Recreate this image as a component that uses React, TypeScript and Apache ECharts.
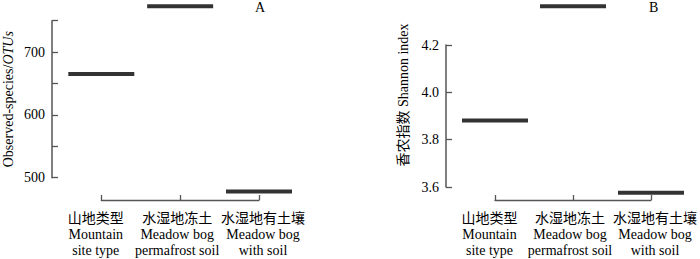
import React, { useEffect, useRef } from "react";
import * as echarts from "echarts";

const categories = [
  "山地类型\nMountain\nsite type",
  "水湿地冻土\nMeadow bog\npermafrost soil",
  "水湿地有土壤\nMeadow bog\nwith soil",
];
const otusValues = [665, 773, 478];
const shannonValues = [3.881, 4.364, 3.576];
const panelTitles = ["A", "B"];

const FONT = "Liberation Serif, Times New Roman, Noto Sans CJK SC, serif";
const LABEL_PADDING = [
  [0, 11, 0, 0],
  [0, 6, 0, 0],
  [0, 0, 0, 8],
];

export default function App() {
  const ref = useRef<HTMLDivElement>(null);
  useEffect(() => {
    const chart = echarts.init(ref.current!, undefined, { renderer: "svg" });
    const axisColor = "#555";
    const xAxisBase = (gridIndex: number, offset: number) => ({
      type: "category",
      gridIndex,
      data: categories.map((c, i) => ({ value: c, textStyle: { padding: LABEL_PADDING[i] } })),
      boundaryGap: false,
      offset,
      axisLine: { lineStyle: { color: axisColor, width: 1.3 } },
      axisTick: { inside: true, length: 5, interval: 0, lineStyle: { color: axisColor, width: 1.3 } },
      axisLabel: {
        interval: 0,
        margin: 10,
        color: "#000",
        fontSize: 14,
        fontFamily: FONT,
        lineHeight: 16,
      },
      splitLine: { show: false },
    });
    const yAxisCommon = {
      axisLine: { show: true, lineStyle: { color: axisColor, width: 1.5 } },
      axisTick: { show: true, inside: true, length: 6, lineStyle: { color: axisColor, width: 1.3 } },
      splitLine: { show: false },
    };
    chart.setOption({
      animation: false,
      textStyle: { fontFamily: FONT },
      title: [
        { text: panelTitles[0], left: 255, top: 0, padding: 0, textStyle: { fontSize: 14, fontWeight: "normal", fontFamily: FONT, color: "#000" } },
        { text: panelTitles[1], left: 649, top: 0, padding: 0, textStyle: { fontSize: 14, fontWeight: "normal", fontFamily: FONT, color: "#000" } },
      ],
      grid: [
        { left: 100, top: 20.7, width: 159, height: 157 },
        { left: 495, top: 45, width: 159, height: 142 },
      ],
      xAxis: [xAxisBase(0, 22.3), xAxisBase(1, 13)],
      yAxis: [
        {
          type: "value",
          gridIndex: 0,
          min: 500,
          max: 750,
          interval: 50,
          offset: 49.3,
          name: "Observed-species/{i|OTUs}",
          nameLocation: "middle",
          nameGap: 37,
          nameTextStyle: {
            fontSize: 14,
            fontFamily: FONT,
            color: "#000",
            rich: { i: { fontStyle: "italic", fontSize: 14, fontFamily: FONT, color: "#000" } },
          },
          ...yAxisCommon,
          axisLabel: {
            margin: 7,
            fontSize: 14,
            fontFamily: FONT,
            color: "#000",
            formatter: (v: number) => (v % 100 === 0 ? String(v) : ""),
          },
        },
        {
          type: "value",
          gridIndex: 1,
          min: 3.6,
          max: 4.2,
          interval: 0.2,
          offset: 49,
          name: "香农指数 Shannon index",
          nameLocation: "middle",
          nameGap: 36,
          nameTextStyle: {
            fontSize: 14,
            fontFamily: FONT,
            color: "#000",
            padding: [0, 0, 0, 42],
          },
          ...yAxisCommon,
          axisLabel: {
            margin: 7,
            fontSize: 14,
            fontFamily: FONT,
            color: "#000",
            formatter: (v: number) => v.toFixed(1),
          },
        },
      ],
      series: [
        {
          type: "scatter",
          xAxisIndex: 0,
          yAxisIndex: 0,
          data: otusValues,
          symbol: "rect",
          symbolSize: [66, 4],
          clip: false,
          itemStyle: { color: "#000" },
        },
        {
          type: "scatter",
          xAxisIndex: 1,
          yAxisIndex: 1,
          data: shannonValues,
          symbol: "rect",
          symbolSize: [66, 4],
          clip: false,
          itemStyle: { color: "#000" },
        },
      ],
    });
    return () => chart.dispose();
  }, []);
  return (
    <div
      ref={ref}
      style={{ position: "absolute", left: 0, top: 0, width: 700, height: 259 }}
    />
  );
}
